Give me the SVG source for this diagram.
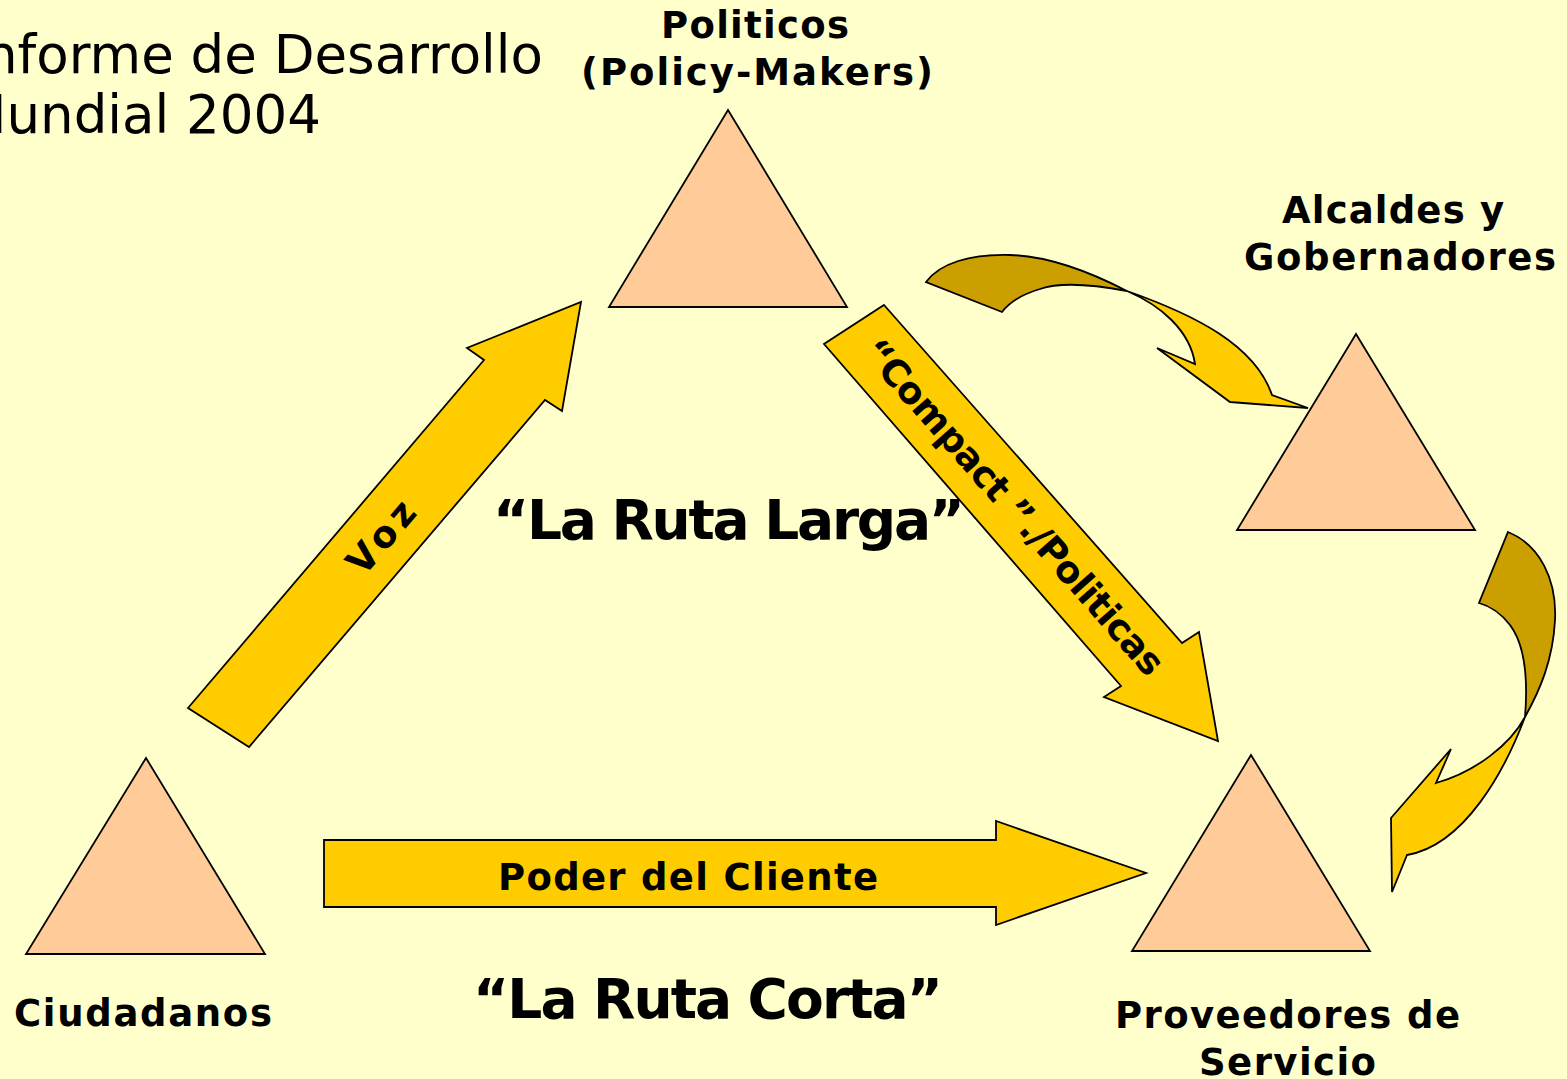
<svg xmlns="http://www.w3.org/2000/svg" width="1567" height="1079" viewBox="0 0 1567 1079">
<style>
.bg{fill:#FFFFCC}
.tri{fill:#FFCC99;stroke:#000;stroke-width:1.8;stroke-linejoin:miter}
.arr{fill:#FFCC00;stroke:#000;stroke-width:1.8;stroke-linejoin:miter}
.arrd{fill:#CC9F00;stroke:#000;stroke-width:1.8;stroke-linejoin:miter}
.lbl{font-family:"DejaVu Sans","Noto Sans",sans-serif;font-weight:bold;font-size:37px;fill:#000}
.big{font-family:"DejaVu Sans","Noto Sans",sans-serif;font-weight:bold;font-size:55px;fill:#000}
.title{font-family:"DejaVu Sans","Noto Sans",sans-serif;font-size:53px;fill:#000}
</style>
<rect class="bg" x="0" y="0" width="1567" height="1079"/>

<g id="title">
<text class="title" x="543" y="73" text-anchor="end">Informe de Desarrollo</text>
<text class="title" x="321" y="133" text-anchor="end">Mundial 2004</text>
</g>

<g id="connectors">
<g id="voz">
<polygon class="arr" points="188,708 484,360 467,348 581,302 562,411 545,400 249,747"/>
<text class="lbl" transform="translate(381,537) rotate(-49.5)" x="0" y="13" text-anchor="middle" textLength="84" lengthAdjust="spacing">Voz</text>
</g>
<g id="compact">
<polygon class="arr" points="884,305 1182,643 1199,632 1218,741 1104,697 1121,686 824,344"/>
<text class="lbl" transform="translate(1014,507) rotate(48.6)" x="0" y="13" text-anchor="middle" textLength="434" lengthAdjust="spacing">“Compact ”./Politicas</text>
</g>
<g id="poder">
<polygon class="arr" points="324,840 996,840 996,821 1146,873 996,925 996,907 324,907"/>
<text class="lbl" x="688" y="890" text-anchor="middle" textLength="380" lengthAdjust="spacing">Poder del Cliente</text>
</g>
<g id="curve-top">
<path class="arrd" d="M926,282 C940,263 970,254 1010,255 C1050,256 1090,272 1127,291 C1090,284 1060,282 1040,289 C1020,295 1008,304 1002,312 Z"/>
<path class="arr" d="M1127,291 C1195,315 1255,345 1272,395 L1308,408 L1230,402 L1157,348 L1195,364 C1190,330 1160,305 1127,291 Z"/>
</g>
<g id="curve-right">
<path class="arrd" d="M1508,532 C1540,545 1557,580 1555,620 C1553,660 1540,690 1525,717 C1528,680 1525,645 1510,625 C1500,612 1490,606 1479,603 Z"/>
<path class="arr" d="M1525,717 C1505,770 1465,845 1407,855 L1392,892 L1391,818 L1451,749 L1436,783 C1475,772 1510,745 1525,717 Z"/>
</g>
</g>

<g id="politicos">
<polygon class="tri" points="728,110 847,307 609,307"/>
<text class="lbl" x="755" y="38" text-anchor="middle" textLength="188" lengthAdjust="spacing">Politicos</text>
<text class="lbl" x="757" y="85" text-anchor="middle" textLength="352" lengthAdjust="spacing">(Policy-Makers)</text>
</g>

<g id="alcaldes">
<polygon class="tri" points="1356,334 1475,530 1237,530"/>
<text class="lbl" x="1282" y="223" textLength="222" lengthAdjust="spacing">Alcaldes y</text>
<text class="lbl" x="1244" y="270" textLength="312" lengthAdjust="spacing">Gobernadores</text>
</g>

<g id="ciudadanos">
<polygon class="tri" points="146,758 265,954 26,954"/>
<text class="lbl" x="14" y="1026" textLength="258" lengthAdjust="spacing">Ciudadanos</text>
</g>

<g id="proveedores">
<polygon class="tri" points="1251,755 1370,951 1132,951"/>
<text class="lbl" x="1115" y="1028" textLength="345" lengthAdjust="spacing">Proveedores de</text>
<text class="lbl" x="1199" y="1075" textLength="177" lengthAdjust="spacing">Servicio</text>
</g>

<g id="rutas">
<text class="big" x="493" y="539" textLength="472" lengthAdjust="spacing">“La Ruta Larga”</text>
<text class="big" x="473" y="1018" textLength="470" lengthAdjust="spacing">“La Ruta Corta”</text>
</g>
</svg>
